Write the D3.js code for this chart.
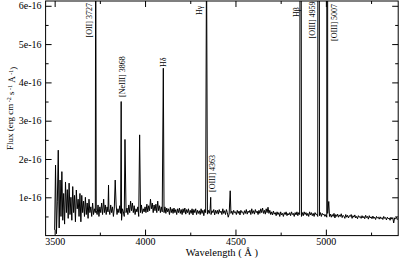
<!DOCTYPE html>
<html><head><meta charset="utf-8">
<script src="https://cdn.jsdelivr.net/npm/d3@7"></script>
<style>
body{margin:0;background:#fff}
svg{display:block}
svg text{font-family:"Liberation Serif","Times New Roman",serif !important;fill:#000}
</style>
</head><body><svg id="c" width="399" height="258"></svg>
<script>
// ---- data (flux in units of 1e-16 erg cm^-2 s^-1 A^-1) ----
const wlStart = 3500, wlStep = 5;
const continuum = [
 .15,1.84,.05,.9,2.23,.2,1.45,.5,1.67,.4,1.1,.3,1.4,.6,1.2,.45,1.37,.55,1.0,.4,
 1.28,.6,1.05,.36,1.19,.7,.95,.5,1.1,.36,1.05,.6,.9,.5,1.0,.55,.85,.45,.95,.6,
 .75,.5,.85,.55,.7,.6,.65,.55,.8,.5,.75,.6,.85,.55,.7,.6,.8,.55,.75,.62,
 .7,.55,.8,.6,.75,.5,.72,.62,.8,.55,.7,.6,.78,.58,.4,.7,.62,.5,.75,.6,
 .72,.55,.8,.6,.9,.65,.85,.6,.78,.55,.7,.62,.75,.5,.72,.6,.8,.58,.7,.62,
 .75,.6,.82,.62,.78,.65,.95,.7,.85,.6,.8,.65,.82,.6,.9,.65,.78,.6,.75,.62,
 .7,.6,.75,.58,.72,.62,.7,.55,.74,.6,.7,.58,.72,.6,.68,.55,.7,.6,.72,.58,
 .68,.55,.7,.6,.72,.56,.68,.6,.7,.55,.66,.58,.7,.54,.68,.6,.7,.55,.66,.58,
 .65,.55,.7,.58,.66,.52,.68,.6,.64,.56,.66,.58,.7,.55,.65,.6,.68,.54,.66,.58,
 .66,.56,.68,.6,.64,.55,.7,.58,.65,.55,.68,.6,.48,.56,.7,.58,.64,.55,.66,.6,
 .62,.55,.66,.58,.64,.54,.66,.6,.62,.55,.65,.58,.68,.56,.64,.6,.66,.55,.7,.58,
 .65,.56,.68,.6,.64,.55,.66,.58,.7,.6,.72,.58,.66,.56,.7,.6,.74,.58,.66,.55,
 .62,.54,.64,.56,.6,.52,.62,.55,.6,.5,.62,.54,.58,.5,.6,.55,.62,.52,.58,.54,
 .6,.52,.62,.55,.58,.5,.6,.54,.62,.52,.6,.55,.58,.5,.6,.52,.62,.55,.6,.52,
 .58,.5,.62,.54,.6,.52,.58,.5,.6,.55,.56,.5,.58,.52,.6,.5,.58,.54,.56,.5,
 .55,.48,.58,.52,.5,.56,.48,.55,.5,.58,.46,.55,.5,.56,.48,.54,.5,.57,.47,.53,
 .5,.45,.55,.48,.53,.46,.52,.5,.55,.45,.52,.48,.54,.46,.5,.44,.52,.48,.5,.45,
 .52,.46,.5,.44,.53,.47,.5,.43,.52,.46,.49,.44,.51,.45,.48,.42,.5,.46,.48,.43,
 .49,.44,.47,.42,.5,.45,.47,.41,.48,.44,.46,.4,.48,.43,.47,.33,.46,.44,.48,.42,
 .45
];
const lineWave = [3727, 3771, 3798, 3835, 3868, 3889, 3970, 4101, 4340, 4363, 4471, 4861, 4959, 5007, 5016];
const linePeak = [9.0, 0.95, 1.32, 1.45, 3.5, 2.51, 2.63, 4.37, 7.5, 1.0, 1.17, 20, 30, 80, 0.89];
const labelText = ["[OII] 3727", "[NeIII] 3868", "H\u03b4", "H\u03b3", "[OIII] 4363", "H\u03b2", "[OIII] 4959", "[OIII] 5007"];
const labelWave = [3727, 3868, 4101, 4340, 4363, 4861, 4959, 5007];
const xTicks = [3500, 4000, 4500, 5000];
const xMinor = [3750, 4250, 4750, 5250];
const yTicks = [1, 2, 3, 4, 5, 6];
const yMinor = [0.5, 1.5, 2.5, 3.5, 4.5, 5.5];

// ---- layout ----
const W = 399, H = 258;
const m = {l: 45.6, r: 0.8, t: 1, b: 22.4};
const svg = d3.select("#c");
const x = d3.scaleLinear().domain([3450, 5400]).range([m.l, W - m.r]);
const y = d3.scaleLinear().domain([0, 6.125]).range([H - m.b, m.t]);

// build spectrum: continuum grid + emission-line peaks
const pts = continuum.map((v, i) => [wlStart + i * wlStep, v])
  .filter(p => !lineWave.some(w => Math.abs(w - p[0]) < 2));
lineWave.forEach((w, i) => pts.push([w, linePeak[i]]));
pts.sort((a, b) => a[0] - b[0]);

svg.append("clipPath").attr("id", "clip").append("rect")
  .attr("x", x.range()[0]).attr("y", y.range()[1])
  .attr("width", x.range()[1] - x.range()[0]).attr("height", y.range()[0] - y.range()[1]);

svg.append("path").datum(pts)
  .attr("clip-path", "url(#clip)")
  .attr("fill", "none").attr("stroke", "#000").attr("stroke-width", 1)
  .attr("stroke-linejoin", "miter")
  .attr("d", d3.line().x(d => x(d[0])).y(d => y(d[1])));

// axes (ticks inward on all four sides)
const px0 = x.range()[0], px1 = x.range()[1], py0 = y.range()[0], py1 = y.range()[1];
const fmtY = d => d + "e-16";
const fmtX = d => String(d);
svg.append("g").attr("transform", `translate(0,${py0})`)
  .call(d3.axisBottom(x).tickValues(xTicks).tickSizeInner(-6).tickSizeOuter(0).tickPadding(2.5).tickFormat(fmtX));
svg.append("g").attr("transform", `translate(0,${py0})`)
  .call(d3.axisBottom(x).tickValues(xMinor).tickSizeInner(-3).tickSizeOuter(0).tickFormat(""));
svg.append("g").attr("transform", `translate(0,${py1})`)
  .call(d3.axisTop(x).tickValues(xTicks).tickSizeInner(-6).tickSizeOuter(0).tickFormat(""));
svg.append("g").attr("transform", `translate(0,${py1})`)
  .call(d3.axisTop(x).tickValues(xMinor).tickSizeInner(-3).tickSizeOuter(0).tickFormat(""));
svg.append("g").attr("transform", `translate(${px0},0)`)
  .call(d3.axisLeft(y).tickValues(yTicks).tickSizeInner(-6).tickSizeOuter(0).tickPadding(4).tickFormat(fmtY));
svg.append("g").attr("transform", `translate(${px0},0)`)
  .call(d3.axisLeft(y).tickValues(yMinor).tickSizeInner(-3).tickSizeOuter(0).tickFormat(""));
svg.append("g").attr("transform", `translate(${px1},0)`)
  .call(d3.axisRight(y).tickValues(yTicks).tickSizeInner(-6).tickSizeOuter(0).tickFormat(""));
svg.append("g").attr("transform", `translate(${px1},0)`)
  .call(d3.axisRight(y).tickValues(yMinor).tickSizeInner(-3).tickSizeOuter(0).tickFormat(""));
svg.selectAll(".domain").remove();
svg.selectAll(".tick line").attr("stroke", "#000");
svg.selectAll(".tick text").attr("font-size", 10).attr("fill", "#000");

svg.append("rect").attr("x", px0).attr("y", py1).attr("width", px1 - px0).attr("height", py0 - py1)
  .attr("fill", "none").attr("stroke", "#000").attr("stroke-width", 1);

// axis titles
svg.append("text").attr("x", (px0 + px1) / 2).attr("y", 255.5).attr("text-anchor", "middle")
  .attr("font-size", 10.5).text("Wavelength ( \u00c5 )");
const yt = svg.append("text").attr("transform", `translate(9.5,${(py0 + py1) / 2 - 10}) rotate(-90)`)
  .attr("text-anchor", "middle").attr("dy", "0.35em").attr("font-size", 9);
yt.append("tspan").text("Flux (erg cm");
yt.append("tspan").attr("font-size", 6).attr("dy", "-0.35em").text(" -2");
yt.append("tspan").attr("dy", "0.35em").text(" s");
yt.append("tspan").attr("font-size", 6).attr("dy", "-0.35em").text(" -1");
yt.append("tspan").attr("dy", "0.35em").text(" \u00c5");
yt.append("tspan").attr("font-size", 6).attr("dy", "-0.35em").text(" -1");
yt.append("tspan").attr("dy", "0.35em").text(")");

// line labels (rotated, reading bottom to top)
const labelDx = [-6.7, 1.3, 0, -7, 1.3, -5, -6, 6.6];
const labelBottom = [37.5, 97, 67, 15, 192, 17, 38.5, 41];
svg.selectAll("text.lbl").data(labelText).join("text").attr("class", "lbl")
  .attr("font-size", 8).attr("dy", "0.35em")
  .attr("transform", (d, i) => `translate(${x(labelWave[i]) + labelDx[i]},${labelBottom[i]}) rotate(-90)`)
  .text(d => d);
</script></body></html>
